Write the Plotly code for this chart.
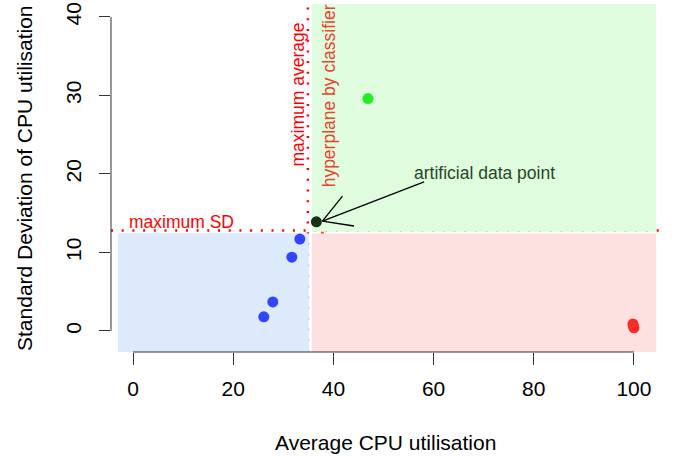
import math
import plotly.graph_objects as go

# ---- data ----
blue_x = [33.3, 31.7, 27.9, 26.1]
blue_y = [11.7, 9.4, 3.7, 1.8]
green_x = [46.9]
green_y = [29.6]
red_x = [99.8, 100.0, 99.9]
red_y = [0.9, 0.4, 0.6]
art_x = [36.6]
art_y = [13.9]
max_avg = 34.9
max_sd = 12.8
hyper_x = 37.8
x_ticks = [0, 20, 40, 60, 80, 100]
y_ticks = [0, 10, 20, 30, 40]

# ---- layout geometry ----
W, H = 673, 457
ML, MR, MT, MB = 111, 14, 4, 105
XR = [-4.4, 105.0]
YR = [-2.68, 41.65]
pw = W - ML - MR
ph = H - MT - MB
sx = pw / (XR[1] - XR[0])
sy = ph / (YR[1] - YR[0])

FONT = "Liberation Sans, Arial, Helvetica, sans-serif"
LINE_RED = "rgba(255,0,0,0.72)"

fig = go.Figure()

fig.add_trace(go.Scatter(x=blue_x, y=blue_y, mode="markers",
                         marker=dict(size=11, color="#3344ff"), showlegend=False))
fig.add_trace(go.Scatter(x=green_x, y=green_y, mode="markers",
                         marker=dict(size=11, color="#22ee22"), showlegend=False))
fig.add_trace(go.Scatter(x=red_x, y=red_y, mode="markers",
                         marker=dict(size=11, color="#ff2a2a"), showlegend=False))
fig.add_trace(go.Scatter(x=art_x, y=art_y, mode="markers",
                         marker=dict(size=11, color="#173017"), showlegend=False))

shapes = []
# region rectangles
shapes.append(dict(type="rect", xref="x", yref="y", x0=-3.0, x1=max_avg + 0.2,
                   y0=YR[0], y1=max_sd - 0.35, fillcolor="#dceafc",
                   line=dict(width=0), layer="below"))
shapes.append(dict(type="rect", xref="x", yref="y", x0=max_avg + 0.8, x1=104.4,
                   y0=max_sd - 0.15, y1=YR[1], fillcolor="#dffcdf",
                   line=dict(width=0), layer="below"))
shapes.append(dict(type="rect", xref="x", yref="y", x0=max_avg + 0.8, x1=104.4,
                   y0=YR[0], y1=max_sd - 0.4, fillcolor="#fde0e0",
                   line=dict(width=0), layer="below"))
# dotted thresholds
shapes.append(dict(type="line", xref="x", yref="paper", x0=max_avg, x1=max_avg,
                   y0=0, y1=1, line=dict(color="red", width=2.5, dash="2px,8.7px"),
                   layer="below"))
shapes.append(dict(type="line", xref="paper", yref="y", x0=0, x1=1,
                   y0=max_sd, y1=max_sd,
                   line=dict(color="red", width=2.5, dash="2px,8.7px"), layer="below"))
# hyperplane
shapes.append(dict(type="line", xref="x", yref="paper", x0=hyper_x, x1=hyper_x,
                   y0=0, y1=1, line=dict(color=LINE_RED, width=3), layer="below"))
# axis lines (R style, spanning the ticks only)
shapes.append(dict(type="line", xref="x", yref="paper", x0=x_ticks[0], x1=x_ticks[-1],
                   y0=0, y1=0, line=dict(color="#333", width=1)))
shapes.append(dict(type="line", xref="paper", yref="y", x0=0, x1=0,
                   y0=y_ticks[0], y1=y_ticks[-1], line=dict(color="#333", width=1)))

# arrow (R style open head) from label to the artificial point
tip_x, tip_y = hyper_x, art_y[0] + 0.1
tail_x, tail_y = 58.1, 19.0
shapes.append(dict(type="line", xref="x", yref="y", x0=tail_x, y0=tail_y,
                   x1=tip_x, y1=tip_y, line=dict(color="black", width=1.3)))
ang = math.atan2((tail_y - tip_y) * sy, (tail_x - tip_x) * sx)
for d in (math.radians(30), -math.radians(30)):
    a = ang + d
    L = 32
    shapes.append(dict(type="line", xref="x", yref="y", x0=tip_x, y0=tip_y,
                       x1=tip_x + L * math.cos(a) / sx, y1=tip_y + L * math.sin(a) / sy,
                       line=dict(color="black", width=1.3)))

annotations = [
    dict(x=9.7, y=13.9, xref="x", yref="y", text="maximum SD", showarrow=False,
         font=dict(size=17.5, color="red", family=FONT)),
    dict(x=32.9, y=30.1, xref="x", yref="y", text="maximum average", showarrow=False,
         textangle=-90, font=dict(size=17.5, color="red", family=FONT)),
    dict(x=39.3, y=30.0, xref="x", yref="y", text="hyperplane by classifier",
         showarrow=False, textangle=-90,
         font=dict(size=17.5, color="#e8452a", family=FONT)),
    dict(x=70.1, y=20.1, xref="x", yref="y", text="artificial data point",
         showarrow=False, font=dict(size=17.5, color="#284628", family=FONT)),
    dict(x=0.5, y=(352 - 442) / ph, xref="paper", yref="paper",
         text="Average CPU utilisation", showarrow=False,
         font=dict(size=21, color="black", family=FONT), yanchor="middle"),
    dict(x=(24 - ML) / pw, y=0.5, xref="paper", yref="paper",
         text="Standard Deviation of CPU utilisation", showarrow=False, textangle=-90,
         font=dict(size=21, color="black", family=FONT), xanchor="center"),
]

fig.update_layout(
    width=W, height=H,
    margin=dict(l=ML, r=MR, t=MT, b=MB, pad=0, autoexpand=False),
    plot_bgcolor="white", paper_bgcolor="white",
    shapes=shapes, annotations=annotations, showlegend=False,
    font=dict(family=FONT, color="black"),
    xaxis=dict(range=XR, tickvals=x_ticks, ticks="outside", ticklen=12,
               tickcolor="#333", tickwidth=1, showgrid=False, zeroline=False,
               showline=False, automargin=False, ticklabelstandoff=6,
               tickfont=dict(size=21, color="black", family=FONT)),
    yaxis=dict(range=YR, tickvals=y_ticks, ticks="outside", ticklen=11,
               tickcolor="#333", tickwidth=1, showgrid=False, zeroline=False,
               showline=False, tickangle=-90, automargin=False, ticklabelstandoff=10,
               tickfont=dict(size=21, color="black", family=FONT)),
)

fig.write_html("out.html", config={"displayModeBar": False},
               post_script="document.body.style.margin='0';document.body.style.padding='0';")
